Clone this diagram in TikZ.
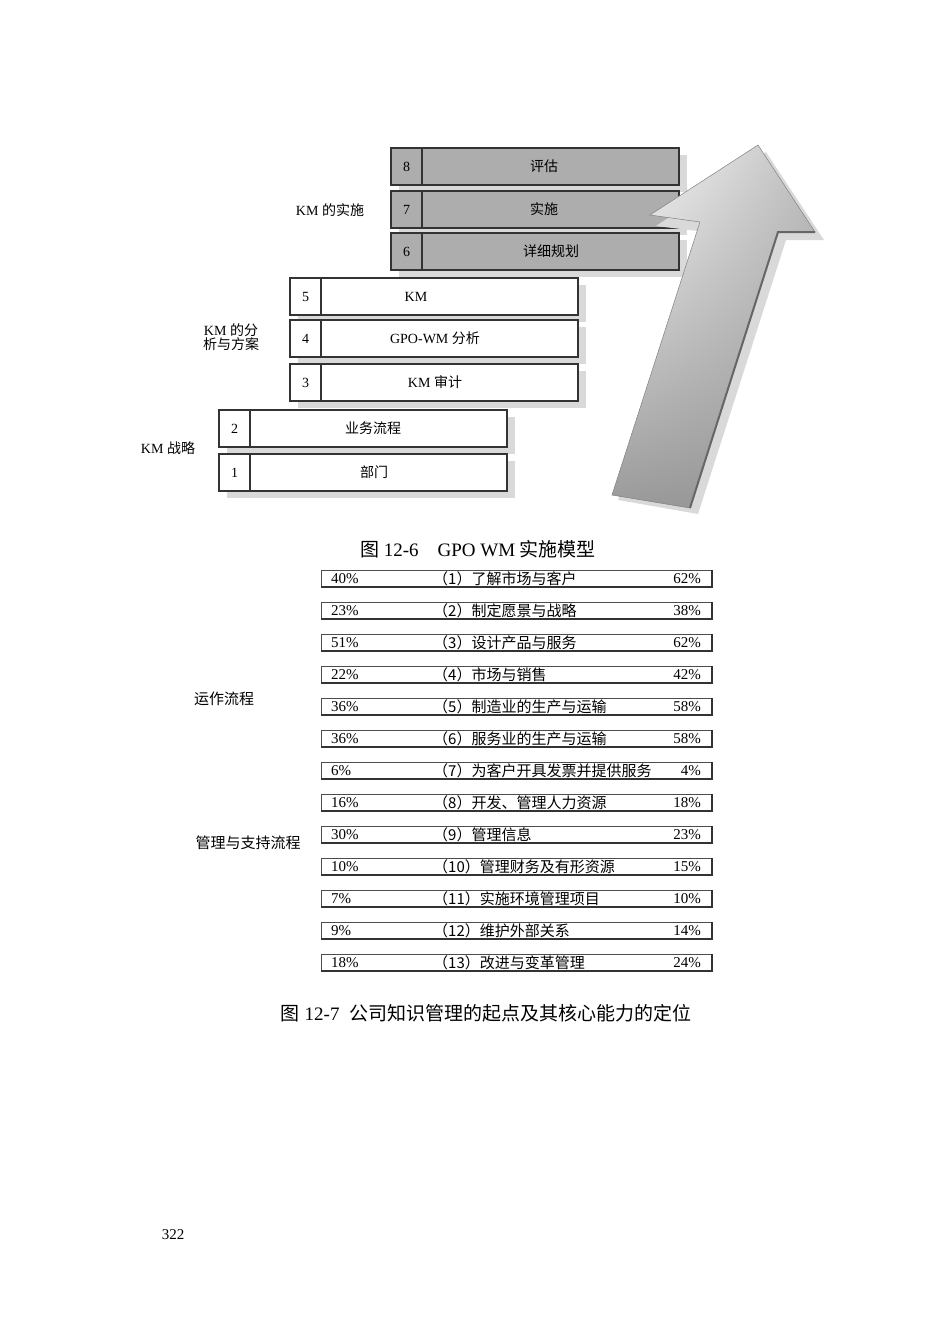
\documentclass[tikz,border=0pt]{standalone}
\usepackage{fontspec}
\usetikzlibrary{shadings}
\setmainfont{Liberation Serif}
\newfontfamily\cjk{Noto Sans CJK SC}
\newcommand{\zh}[1]{{\cjk #1}}
\begin{document}
\begin{tikzpicture}[x=1pt,y=-1pt,
  stepbox/.style={draw=black!80,line width=1.2pt},
  shad/.style={fill=black!15},
  rowbox/.style={draw=black!70,line width=0.6pt},
  lbl/.style={font=\fontsize{14}{16}\selectfont,inner sep=0pt},
  tlbl/.style={font=\fontsize{15}{17}\selectfont,inner sep=0pt}]
\useasboundingbox (0,0) rectangle (950,1344);
\newcommand{\stairbox}[7]{%
  \fill[shad] (#1+8,#2+7) rectangle (#1+296,#2+44);
  \draw[stepbox,fill=#3] (#1,#2) rectangle (#1+288,#2+37);
  \draw[stepbox] (#1+31,#2) -- (#1+31,#2+37);
  \node[lbl] (n#6) at (#1+15.5,#2+18.5) {#4};
  \node[lbl] (t#6) at (#7,#2+18.5) {#5};}
\stairbox{391}{148}{black!32}{8}{\zh{评估}}{8}{544}
\stairbox{391}{191}{black!32}{7}{\zh{实施}}{7}{544}
\stairbox{391}{233}{black!32}{6}{\zh{详细规划}}{6}{551}
\stairbox{290}{278}{white}{5}{KM}{5}{416}
\stairbox{290}{320}{white}{4}{GPO-WM \zh{分析}}{4}{435}
\stairbox{290}{364}{white}{3}{KM \zh{审计}}{3}{435}
\stairbox{219}{410}{white}{2}{\zh{业务流程}}{2}{373}
\stairbox{219}{454}{white}{1}{\zh{部门}}{1}{374}
% arrow
\fill[black!15] (618,500) -- (706,232) -- (656,226) -- (766,152) -- (824,240) -- (786,240) -- (698,514) -- cycle;
\shade[upper left=white,upper right=black!25,lower left=black!40,lower right=black!42,draw=black!50,line width=0.5pt]
  (612,495) -- (700,222) -- (650,215) -- (758,145) -- (815,232) -- (778,232) -- (690,508) -- cycle;
\draw[black!60,line width=2pt] (815,232) -- (778,232) -- (690,508);
\node[lbl] (g1) at (330,210) {KM \zh{的实施}};
\node[lbl,align=center] (g2) at (231,337) {KM \zh{的分}\\[-2pt]\zh{析与方案}};
\node[lbl] (g3) at (168,448) {KM \zh{战略}};
\node[font=\fontsize{19}{21}\selectfont] (cap1) at (478,549) {\zh{图} 12-6\quad GPO WM \zh{实施模型}};
% table
\newcommand{\trow}[5]{%
  \draw[rowbox] (321,#1) rectangle (712,#1+17);
  \draw[black!80,line width=1.3pt] (321,#1+17) -- (712,#1+17) -- (712,#1);
  \node[tlbl,anchor=west] (l#5) at (331,#1+8.5) {#2};
  \node[tlbl,anchor=west] (m#5) at (433,#1+8.5) {#3};
  \node[tlbl,anchor=east] (r#5) at (701,#1+8.5) {#4};}
\trow{570}{40\%}{\zh{（1）了解市场与客户}}{62\%}{1}
\trow{602}{23\%}{\zh{（2）制定愿景与战略}}{38\%}{2}
\trow{634}{51\%}{\zh{（3）设计产品与服务}}{62\%}{3}
\trow{666}{22\%}{\zh{（4）市场与销售}}{42\%}{4}
\trow{698}{36\%}{\zh{（5）制造业的生产与运输}}{58\%}{5}
\trow{730}{36\%}{\zh{（6）服务业的生产与运输}}{58\%}{6}
\trow{762}{6\%}{\zh{（7）为客户开具发票并提供服务}}{4\%}{7}
\trow{794}{16\%}{\zh{（8）开发、管理人力资源}}{18\%}{8}
\trow{826}{30\%}{\zh{（9）管理信息}}{23\%}{9}
\trow{858}{10\%}{\zh{（10）管理财务及有形资源}}{15\%}{10}
\trow{890}{7\%}{\zh{（11）实施环境管理项目}}{10\%}{11}
\trow{922}{9\%}{\zh{（12）维护外部关系}}{14\%}{12}
\trow{954}{18\%}{\zh{（13）改进与变革管理}}{24\%}{13}
\node[tlbl] (s1) at (224,699) {\zh{运作流程}};
\node[tlbl] (s2) at (248,843) {\zh{管理与支持流程}};
\node[font=\fontsize{19}{21}\selectfont] (cap2) at (486,1013) {\zh{图} 12-7\enspace\zh{公司知识管理的起点及其核心能力的定位}};
\node[tlbl] (pg) at (173,1235) {322};
\end{tikzpicture}
\end{document}
